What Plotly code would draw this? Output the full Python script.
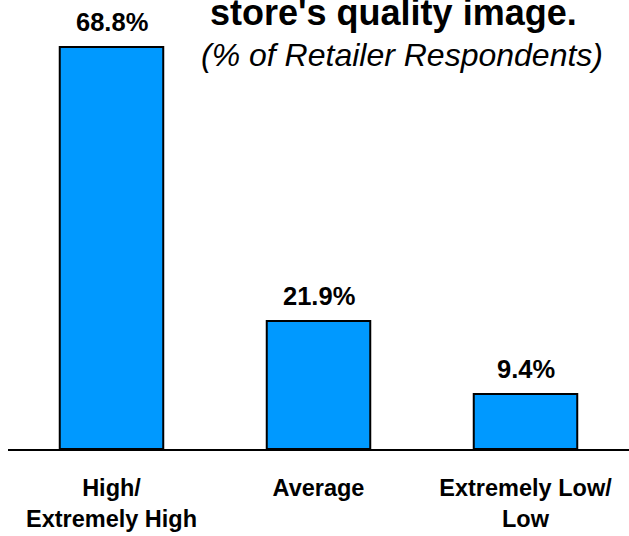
import plotly.graph_objects as go

categories = ["High/<br>Extremely High", "Average", "Extremely Low/<br>Low"]
values = [68.8, 21.9, 9.4]
value_labels = ["68.8%", "21.9%", "9.4%"]
title_text = "store's quality image."
subtitle_text = "(% of Retailer Respondents)"

FONT = "Liberation Sans, Arial, sans-serif"

fig = go.Figure()
fig.add_trace(go.Bar(
    x=categories, y=values, width=0.5,
    marker=dict(color="#0099FF", line=dict(color="black", width=2)),
    hoverinfo="skip",
))

for c, v, t in zip(categories, values, value_labels):
    fig.add_annotation(x=c, y=v, text="<b>%s</b>" % t, showarrow=False,
                       yanchor="middle", yshift=25,
                       font=dict(family=FONT, size=25.5, color="black"))

fig.add_annotation(xref="paper", yref="paper", x=0.621, y=0.973,
                   text="<b>%s</b>" % title_text, showarrow=False,
                   xanchor="center", yanchor="middle",
                   font=dict(family=FONT, size=36, color="black"))
fig.add_annotation(xref="paper", yref="paper", x=0.634, y=0.878,
                   text="<i>%s</i>" % subtitle_text, showarrow=False,
                   xanchor="center", yanchor="middle",
                   font=dict(family=FONT, size=32, color="black"))

fig.update_layout(
    width=629, height=536,
    margin=dict(l=8, r=0, t=0, b=87),
    paper_bgcolor="white", plot_bgcolor="white",
    showlegend=False,
    bargap=0.5,
    xaxis=dict(showline=True, linecolor="black", linewidth=2,
               showgrid=False, zeroline=False, ticks="",
               ticklabelstandoff=17, range=[-0.5, 2.5],
               tickfont=dict(family=FONT, size=23.5, color="black"),
               tickprefix="<b>", ticksuffix="</b>", fixedrange=True),
    yaxis=dict(visible=False, range=[0, 76.84], fixedrange=True),
)

fig.write_html("out.html")
